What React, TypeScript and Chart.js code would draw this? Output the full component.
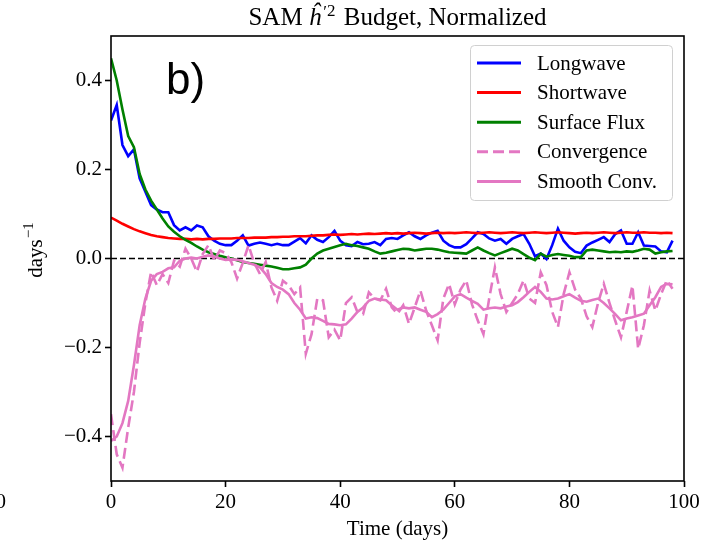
import React, { useEffect, useRef } from "react";
import { Chart, registerables } from "chart.js";

Chart.register(...registerables);

// ---- data (days 0..98) ----
const LONGWAVE = [
  0.31, 0.345, 0.255, 0.23, 0.245, 0.18, 0.15, 0.12, 0.11, 0.104,
  0.104, 0.075, 0.063, 0.07, 0.063, 0.074, 0.07, 0.05, 0.04, 0.033,
  0.03, 0.03, 0.04, 0.052, 0.029, 0.033, 0.036, 0.033, 0.03, 0.033,
  0.03, 0.03, 0.038, 0.046, 0.034, 0.052, 0.042, 0.037, 0.048, 0.062,
  0.04, 0.03, 0.028, 0.037, 0.032, 0.033, 0.037, 0.03, 0.044, 0.046,
  0.044, 0.052, 0.059, 0.05, 0.044, 0.052, 0.058, 0.062, 0.04, 0.03,
  0.025, 0.025, 0.032, 0.045, 0.059, 0.055, 0.045, 0.04, 0.044, 0.033,
  0.044, 0.05, 0.055, 0.033, 0.005, 0.011, -0.001, 0.03, 0.067, 0.04,
  0.025, 0.015, 0.012, 0.029, 0.036, 0.042, 0.048, 0.037, 0.055, 0.063,
  0.033, 0.033, 0.059, 0.029, 0.028, 0.027, 0.016, 0.014, 0.04,
];

const SHORTWAVE = [
  0.092, 0.085, 0.078, 0.072, 0.066, 0.061, 0.057, 0.053, 0.05, 0.048,
  0.046, 0.045, 0.044, 0.044, 0.043, 0.044, 0.043, 0.044, 0.044, 0.045,
  0.045, 0.045, 0.046, 0.046, 0.046, 0.047, 0.047, 0.047, 0.048, 0.048,
  0.049, 0.049, 0.05, 0.05, 0.05, 0.051, 0.052, 0.052, 0.053, 0.054,
  0.053, 0.054, 0.055, 0.054, 0.055, 0.056, 0.055, 0.056, 0.057, 0.056,
  0.057, 0.056, 0.057, 0.058, 0.057, 0.056, 0.057, 0.058, 0.057, 0.058,
  0.057, 0.058, 0.059, 0.058, 0.057, 0.058, 0.059, 0.058, 0.057, 0.058,
  0.059, 0.058, 0.057, 0.058, 0.059, 0.058, 0.057, 0.058, 0.059, 0.058,
  0.057, 0.056, 0.057, 0.058, 0.057, 0.058, 0.059, 0.058, 0.057, 0.058,
  0.059, 0.058, 0.058, 0.059, 0.058, 0.058, 0.057, 0.058, 0.057,
];

const SURFACE_FLUX = [
  0.45, 0.4, 0.335, 0.275, 0.25, 0.19, 0.155, 0.13, 0.11, 0.09,
  0.072, 0.06, 0.05, 0.042, 0.035, 0.027, 0.02, 0.014, 0.01, 0.006,
  0.003, 0.0, -0.004, -0.008, -0.01, -0.012, -0.014, -0.016, -0.018, -0.021,
  -0.024, -0.024, -0.022, -0.02, -0.014, 0.0, 0.011, 0.018, 0.022, 0.026,
  0.03, 0.033, 0.03, 0.028, 0.025, 0.022, 0.016, 0.011, 0.013, 0.016,
  0.019, 0.022, 0.021, 0.018, 0.02, 0.022, 0.022, 0.02, 0.017, 0.014,
  0.013, 0.012, 0.011, 0.018, 0.025, 0.018, 0.012, 0.007, 0.012, 0.017,
  0.022, 0.018, 0.01, 0.002, -0.004, 0.011, 0.004, 0.008, 0.01, 0.008,
  0.006, 0.003, 0.003, 0.018, 0.02, 0.018, 0.016, 0.014, 0.015, 0.014,
  0.016, 0.015, 0.018, 0.022, 0.02, 0.011, 0.014, 0.016, 0.017,
];

const CONVERGENCE = [
  -0.35, -0.44, -0.47, -0.38, -0.3, -0.19, -0.1, -0.03, -0.06, -0.035,
  -0.055, -0.005, -0.018, 0.022, 0.0, -0.03, 0.01, 0.03, -0.003, 0.018,
  0.012, -0.008, -0.045, -0.01, 0.03, -0.01, -0.035, -0.008, -0.065, -0.095,
  -0.05, -0.06, -0.08, -0.065, -0.214, -0.17, -0.09, -0.094, -0.177, -0.16,
  -0.184, -0.1, -0.087, -0.12, -0.125, -0.076, -0.09, -0.094, -0.068, -0.11,
  -0.124, -0.105, -0.147, -0.11, -0.072, -0.117, -0.15, -0.184, -0.09, -0.057,
  -0.103, -0.07, -0.049, -0.103, -0.139, -0.17, -0.09, -0.02, -0.08, -0.12,
  -0.1, -0.08, -0.049, -0.09, -0.1, -0.031, -0.06, -0.12, -0.154, -0.08,
  -0.031, -0.07, -0.09, -0.13, -0.154, -0.1, -0.057, -0.1, -0.14, -0.177,
  -0.12, -0.061, -0.203, -0.15, -0.072, -0.117, -0.08, -0.049, -0.068,
];

const SMOOTH_CONV = [
  -0.41, -0.4, -0.37, -0.32, -0.24, -0.15, -0.09, -0.05, -0.035, -0.03,
  -0.022, -0.02, -0.005, 0.0, 0.002, 0.0, 0.004, 0.007, 0.004, 0.0,
  -0.003, -0.002, -0.003, -0.006, -0.01, -0.014, -0.02, -0.035, -0.055, -0.064,
  -0.07, -0.08, -0.1, -0.115, -0.135, -0.132, -0.134, -0.14, -0.147, -0.148,
  -0.15, -0.148, -0.135, -0.12, -0.11, -0.095, -0.09, -0.092, -0.094, -0.105,
  -0.115, -0.11, -0.112, -0.11, -0.115, -0.12, -0.132, -0.125, -0.115, -0.1,
  -0.085, -0.08, -0.088, -0.095, -0.102, -0.115, -0.112, -0.11, -0.112, -0.108,
  -0.105, -0.098, -0.087, -0.075, -0.064, -0.075, -0.09, -0.092, -0.09, -0.085,
  -0.08, -0.088, -0.095, -0.097, -0.093, -0.09, -0.1, -0.112, -0.125, -0.139,
  -0.135, -0.132, -0.128, -0.124, -0.105, -0.087, -0.064, -0.057, -0.058,
];

const DAYS = LONGWAVE.map((_, i) => i);

const SERIES_LABELS = ["Longwave", "Shortwave", "Surface Flux", "Convergence", "Smooth Conv."];
const SERIES_COLORS = ["#0000ff", "#ff0000", "#008000", "#e377c2", "#e377c2"];
const X_TICKS = [0, 20, 40, 60, 80, 100];
const Y_TICKS = [-0.4, -0.2, 0.0, 0.2, 0.4];
const X_RANGE = [0, 100];
const Y_RANGE = [-0.5, 0.5];
const TITLE_LEFT = "SAM ";
const TITLE_VAR = "\u0125";
const TITLE_RIGHT = " Budget, Normalized";
const X_LABEL = "Time (days)";
const Y_LABEL = "days";
const Y_LABEL_SUP = "\u22121";
const PANEL_TAG = "b)";
const STRAY_TICK = "0";

const SERIF = "'Liberation Serif', 'Times New Roman', serif";
const SANS = "'Liberation Sans', Arial, sans-serif";

function toPoints(values: number[]) {
  return values.map((v, i) => ({ x: DAYS[i], y: v }));
}

const overlayPlugin = {
  id: "overlay",
  beforeDatasetsDraw(chart: any) {
    const { ctx, chartArea, scales } = chart;
    const y0 = scales.y.getPixelForValue(0);
    ctx.save();
    ctx.strokeStyle = "#000";
    ctx.lineWidth = 1.6;
    ctx.setLineDash([6, 3]);
    ctx.beginPath();
    ctx.moveTo(chartArea.left, y0);
    ctx.lineTo(chartArea.right, y0);
    ctx.stroke();
    ctx.restore();
  },
  afterDatasetsDraw(chart: any) {
    const { ctx, chartArea } = chart;
    ctx.save();
    // frame
    ctx.strokeStyle = "#000";
    ctx.lineWidth = 1.6;
    ctx.setLineDash([]);
    ctx.strokeRect(chartArea.left, chartArea.top, chartArea.right - chartArea.left, chartArea.bottom - chartArea.top);

    // panel tag
    ctx.fillStyle = "#000";
    ctx.font = `44px ${SANS}`;
    ctx.textAlign = "left";
    ctx.textBaseline = "alphabetic";
    ctx.fillText(PANEL_TAG, 166, 94);

    // legend
    const lx = 470.5, ly = 45.5, lw = 202, lh = 155, r = 4;
    ctx.beginPath();
    ctx.moveTo(lx + r, ly);
    ctx.lineTo(lx + lw - r, ly);
    ctx.quadraticCurveTo(lx + lw, ly, lx + lw, ly + r);
    ctx.lineTo(lx + lw, ly + lh - r);
    ctx.quadraticCurveTo(lx + lw, ly + lh, lx + lw - r, ly + lh);
    ctx.lineTo(lx + r, ly + lh);
    ctx.quadraticCurveTo(lx, ly + lh, lx, ly + lh - r);
    ctx.lineTo(lx, ly + r);
    ctx.quadraticCurveTo(lx, ly, lx + r, ly);
    ctx.closePath();
    ctx.fillStyle = "rgba(255,255,255,0.8)";
    ctx.fill();
    ctx.strokeStyle = "#d0d0d0";
    ctx.lineWidth = 1;
    ctx.stroke();

    chart.data.datasets.forEach((ds: any, i: number) => {
      const yy = 63 + i * 29.6;
      ctx.strokeStyle = ds.borderColor;
      ctx.lineWidth = 3;
      ctx.setLineDash(ds.borderDash || []);
      ctx.beginPath();
      ctx.moveTo(477, yy);
      ctx.lineTo(521, yy);
      ctx.stroke();
      ctx.setLineDash([]);
      ctx.fillStyle = "#000";
      ctx.font = `21px ${SERIF}`;
      ctx.textAlign = "left";
      ctx.textBaseline = "middle";
      ctx.fillText(ds.label, 537, yy + 1);
    });
    ctx.restore();
  },
  afterDraw(chart: any) {
    const { ctx, chartArea } = chart;
    ctx.save();
    ctx.fillStyle = "#000";
    ctx.textBaseline = "alphabetic";
    // title
    const fN = `25px ${SERIF}`;
    const fI = `italic 25px ${SERIF}`;
    const fS = `17px ${SERIF}`;
    ctx.font = fN;
    const wL = ctx.measureText(TITLE_LEFT).width;
    const wR = ctx.measureText(TITLE_RIGHT).width;
    ctx.font = fI;
    const wV = ctx.measureText(TITLE_VAR).width;
    ctx.font = fS;
    const wP = ctx.measureText("\u2032").width;
    const w2 = ctx.measureText("2").width;
    const total = wL + wV + 2 + wP + w2 + 2 + wR;
    const cx = (chartArea.left + chartArea.right) / 2;
    let x = cx - total / 2;
    const by = 25;
    ctx.textAlign = "left";
    ctx.font = fN;
    ctx.fillText(TITLE_LEFT, x, by);
    x += wL;
    ctx.font = fI;
    ctx.fillText(TITLE_VAR, x, by);
    x += wV + 2;
    ctx.font = fS;
    ctx.fillText("\u2032", x, by - 8);
    x += wP;
    ctx.fillText("2", x, by - 9);
    x += w2 + 2;
    ctx.font = fN;
    ctx.fillText(TITLE_RIGHT, x, by);

    // x label
    ctx.font = `21px ${SERIF}`;
    ctx.textAlign = "center";
    ctx.fillText(X_LABEL, cx, 535);

    // y label (rotated)
    ctx.save();
    ctx.translate(42, 250);
    ctx.rotate(-Math.PI / 2);
    ctx.font = `21px ${SERIF}`;
    const wd = ctx.measureText(Y_LABEL).width;
    ctx.font = `15px ${SERIF}`;
    const ws = ctx.measureText(Y_LABEL_SUP).width;
    const tw = wd + ws + 1;
    ctx.textAlign = "left";
    ctx.font = `21px ${SERIF}`;
    ctx.fillText(Y_LABEL, -tw / 2, 0);
    ctx.font = `15px ${SERIF}`;
    ctx.fillText(Y_LABEL_SUP, -tw / 2 + wd + 1, -9);
    ctx.restore();

    // clipped neighbour tick
    ctx.font = `21px ${SERIF}`;
    ctx.textAlign = "right";
    ctx.fillText(STRAY_TICK, 6, 508);
    ctx.restore();
  },
};

export default function App() {
  const ref = useRef<HTMLCanvasElement | null>(null);

  useEffect(() => {
    if (!ref.current) return;
    const series = [LONGWAVE, SHORTWAVE, SURFACE_FLUX, CONVERGENCE, SMOOTH_CONV];
    const chart = new Chart(ref.current, {
      type: "line",
      data: {
        datasets: series.map((vals, i) => ({
          label: SERIES_LABELS[i],
          data: toPoints(vals),
          borderColor: SERIES_COLORS[i],
          backgroundColor: SERIES_COLORS[i],
          borderWidth: 2.6,
          borderDash: i === 3 ? [11, 5] : [],
          pointRadius: 0,
          tension: 0,
          fill: false,
          order: 5 - i,
        })),
      },
      options: {
        responsive: false,
        animation: false,
        devicePixelRatio: 1,
        layout: { padding: { left: 0, right: 21, top: 36, bottom: 0 } },
        plugins: {
          legend: { display: false },
          title: { display: false },
          tooltip: { enabled: false },
        },
        scales: {
          x: {
            type: "linear",
            min: X_RANGE[0],
            max: X_RANGE[1],
            afterBuildTicks: (axis: any) => {
              axis.ticks = X_TICKS.map((v) => ({ value: v }));
            },
            afterFit: (axis: any) => {
              axis.height = 68;
            },
            ticks: {
              autoSkip: false,
              maxRotation: 0,
              padding: 3,
              color: "#000",
              font: { family: SERIF, size: 21 },
              callback: (v: any) => String(v),
            },
            grid: {
              drawOnChartArea: false,
              drawTicks: true,
              tickLength: 6,
              tickWidth: 1.6,
              tickColor: "#000",
            },
            border: { display: false },
          },
          y: {
            type: "linear",
            min: Y_RANGE[0],
            max: Y_RANGE[1],
            afterBuildTicks: (axis: any) => {
              axis.ticks = Y_TICKS.map((v) => ({ value: v }));
            },
            afterFit: (axis: any) => {
              axis.width = 111;
            },
            ticks: {
              autoSkip: false,
              padding: 3,
              color: "#000",
              font: { family: SERIF, size: 21 },
              callback: (v: any) => Number(v).toFixed(1).replace("-", "\u2212"),
            },
            grid: {
              drawOnChartArea: false,
              drawTicks: true,
              tickLength: 6,
              tickWidth: 1.6,
              tickColor: "#000",
            },
            border: { display: false },
          },
        },
      },
      plugins: [overlayPlugin],
    } as any);
    return () => chart.destroy();
  }, []);

  return (
    <div style={{ position: "absolute", left: 0, top: 0, width: 705, height: 549, background: "#fff" }}>
      <canvas ref={ref} width={705} height={549} style={{ display: "block" }} />
    </div>
  );
}
